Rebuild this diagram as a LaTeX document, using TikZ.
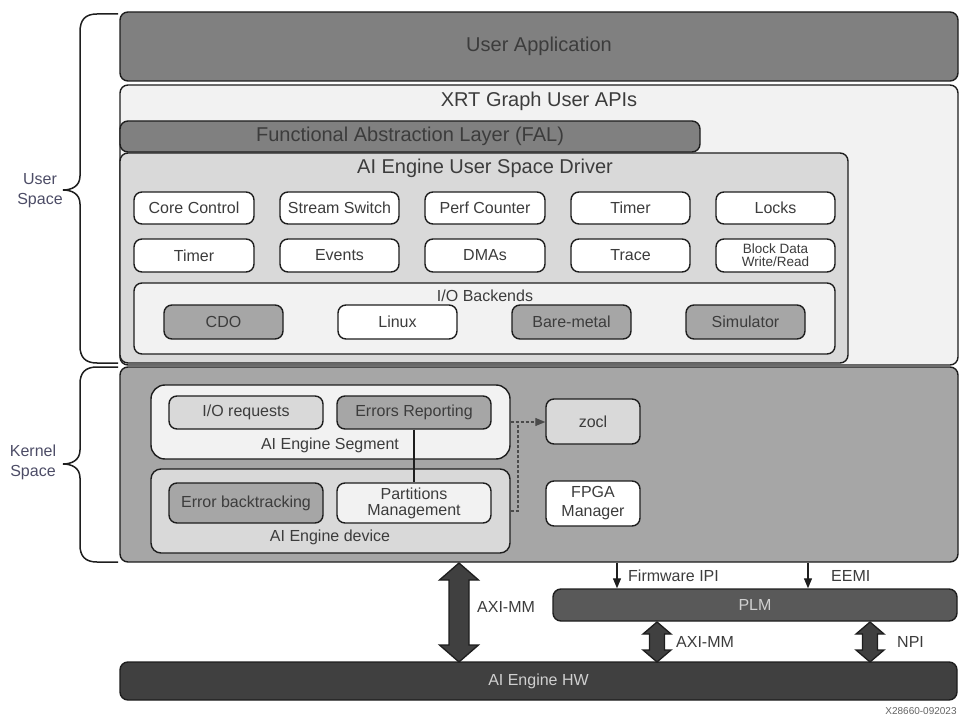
\documentclass[tikz,border=0pt]{standalone}
\usepackage{fontspec}
\setmainfont{Liberation Sans}
\usetikzlibrary{calc,arrows.meta}
\definecolor{cA}{HTML}{808080}
\definecolor{cB}{HTML}{F2F2F2}
\definecolor{cC}{HTML}{D9D9D9}
\definecolor{cD}{HTML}{A6A6A6}
\definecolor{cE}{HTML}{595959}
\definecolor{cF}{HTML}{404040}
\definecolor{txt}{HTML}{3C3C3C}
\definecolor{ltxt}{HTML}{D0D0D0}
\definecolor{brtxt}{HTML}{4C4C66}
\definecolor{edge}{HTML}{1E1E1E}
\tikzset{
  base/.style={draw=edge, line width=1.4pt, rounded corners=8pt, inner sep=0pt,
    text=txt, align=center, font=\fontsize{16}{18}\selectfont},
  big/.style={base, font=\fontsize{20}{22}\selectfont},
  lab/.style={inner sep=0pt, text=txt, align=center, font=\fontsize{16}{18}\selectfont},
  biglab/.style={lab, font=\fontsize{20}{22}\selectfont},
  brlab/.style={inner sep=0pt, text=brtxt, align=center, font=\fontsize{16}{20}\selectfont},
  conn/.style={draw=edge, line width=1.2pt},
  dsh/.style={draw=edge!80, line width=1.2pt, dash pattern=on 3pt off 2pt},
  tip/.style={-{Triangle[length=10pt,width=8pt]}},
  blockarr/.style={draw=edge, fill=cF, line width=1.3pt, line join=miter},
  brace/.style={draw=edge, line width=1.5pt}
}
% \bx[style]{name}{x1}{y1}{x2}{y2}{text}
\newcommand\bx[7][]{%
  \pgfmathsetmacro\bxw{#5-#3}%
  \pgfmathsetmacro\bxh{#6-#4}%
  \pgfmathsetmacro\bxcx{(#3+#5)/2}%
  \pgfmathsetmacro\bxcy{(#4+#6)/2}%
  \node[base, #1, minimum width=\bxw pt, minimum height=\bxh pt] (#2) at (\bxcx,\bxcy) {#7};}
\newcommand\blockarrow[5]{%
  \path[blockarr] (#1) -- ++(#3,#5) -- ++(-#3+#4,0) -- ($(#2)+(#4,-#5)$) -- ++(#3-#4,0)
   -- (#2) -- ++(-#3,-#5) -- ++(#3-#4,0) -- ($(#1)+(-#4,#5)$) -- ++(-#3+#4,0) -- cycle;}
\begin{document}
\begin{tikzpicture}[x=1pt,y=-1pt]
\useasboundingbox (0,0) rectangle (975,722);

% braces
\draw[brace] (118,14) -- (97,14) .. controls (85,14) and (80,20) .. (80,32) -- (80,176)
  .. controls (80,186) and (72,190) .. (63,190) .. controls (72,190) and (80,194) .. (80,204)
  -- (80,346) .. controls (80,357) and (85,363) .. (97,363) -- (118,363);
\draw[brace] (118,367) -- (97,367) .. controls (85,367) and (80,373) .. (80,384) -- (80,450)
  .. controls (80,460) and (72,464) .. (63,464) .. controls (72,464) and (80,468) .. (80,478)
  -- (80,545) .. controls (80,556) and (85,562) .. (97,562) -- (118,562);
\node[brlab] (usl) at (40,191) {User\\Space};
\node[brlab] (ksl) at (33,462) {Kernel\\Space};

% user space
\bx[big, fill=cA]{ua}{120}{12}{958}{81}{User Application}
\bx[big, fill=cB]{xrt}{120}{85}{958}{365}{}
\node[biglab] (xrtl) at (539,101) {XRT Graph User APIs};
\bx[big, fill=cA]{fal}{120}{121}{700}{152}{Functional Abstraction Layer (FAL)}
\bx[big, fill=cC]{drv}{120}{153}{848}{363}{}
\node[biglab] (drvl) at (485,168) {AI Engine User Space Driver};

\bx[fill=white]{cc}{134}{192}{254}{224}{Core Control}
\bx[fill=white]{ss}{280}{192}{399}{224}{Stream Switch}
\bx[fill=white]{pc}{425}{192}{545}{224}{Perf Counter}
\bx[fill=white]{t1}{571}{192}{690}{224}{Timer}
\bx[fill=white]{lk}{716}{192}{835}{224}{Locks}
\bx[fill=white]{t2}{134}{239}{254}{272}{Timer}
\bx[fill=white]{ev}{280}{239}{399}{272}{Events}
\bx[fill=white]{dm}{425}{239}{545}{272}{DMAs}
\bx[fill=white]{tr}{571}{239}{690}{272}{Trace}
\bx[fill=white, font=\fontsize{13.5}{13}\selectfont]{bd}{716}{239}{835}{272}{Block Data\\Write/Read}

\bx[fill=cB]{iob}{134}{283}{835}{354}{}
\node[lab] (iobl) at (485,296) {I/O Backends};
\bx[fill=cD]{cdo}{164}{305}{283}{339}{CDO}
\bx[fill=white]{lin}{338}{305}{457}{339}{Linux}
\bx[fill=cD]{bm}{512}{305}{631}{339}{Bare-metal}
\bx[fill=cD]{sim}{686}{305}{805}{339}{Simulator}

% kernel space
\bx[big, fill=cD]{kern}{120}{367}{958}{562}{}
\bx[fill=cB, rounded corners=14pt]{seg}{151}{385}{510}{459}{}
\node[lab] (segl) at (330,445) {AI Engine Segment};
\bx[fill=cC]{ior}{169}{396}{323}{429}{I/O requests}
\bx[fill=cD]{er}{337}{396}{491}{429}{Errors Reporting}
\bx[fill=cC, rounded corners=10pt]{dev}{151}{469}{510}{553}{}
\node[lab] (devl) at (330,537) {AI Engine device};
\bx[fill=cD]{eb}{169}{483}{323}{523}{Error backtracking}
\bx[fill=cB, font=\fontsize{16}{16}\selectfont]{pm}{337}{483}{491}{523}{Partitions\\Management}
\bx[fill=cC]{zocl}{546}{399}{640}{444}{zocl}
\bx[fill=white, font=\fontsize{16}{19}\selectfont]{fpga}{546}{481}{640}{526}{FPGA\\Manager}

\draw[conn] (er.south) -- (pm.north);
\coordinate (dj) at (518,422);
\draw[dsh, tip] (seg.east) -- (seg.east -| zocl.west);
\draw[dsh] (dev.east) -- (dev.east -| dj) -- (dj);

% PLM and HW
\bx[fill=cE, text=ltxt]{plm}{553}{589}{957}{621}{PLM}
\bx[fill=cF, text=ltxt]{hw}{120}{662}{957}{700}{AI Engine HW}

\coordinate (fw) at (617,575);
\coordinate (ee) at (808,575);
\draw[conn, tip] (fw |- kern.south) -- (fw |- plm.north);
\draw[conn, tip] (ee |- kern.south) -- (ee |- plm.north);
\node[lab, anchor=west] (fwl) at (628,576) {Firmware IPI};
\node[lab, anchor=west] (eel) at (831,576) {EEMI};

\coordinate (a1) at (459,563);
\coordinate (a2) at (459,662);
\blockarrow{a1}{a2}{19.5}{10}{17}
\node[lab, anchor=west] (a1l) at (477,607) {AXI-MM};

\coordinate (b1) at (657,622);
\coordinate (b2) at (657,662);
\blockarrow{b1}{b2}{14}{7.5}{12}
\node[lab, anchor=west] (b1l) at (676,642) {AXI-MM};

\coordinate (c1) at (870,622);
\coordinate (c2) at (870,662);
\blockarrow{c1}{c2}{14}{7.5}{12}
\node[lab, anchor=west] (c1l) at (897,642) {NPI};

\node[inner sep=0pt, text=txt!80, font=\fontsize{10}{11}\selectfont] (code) at (921,711) {X28660-092023};
\end{tikzpicture}
\end{document}
